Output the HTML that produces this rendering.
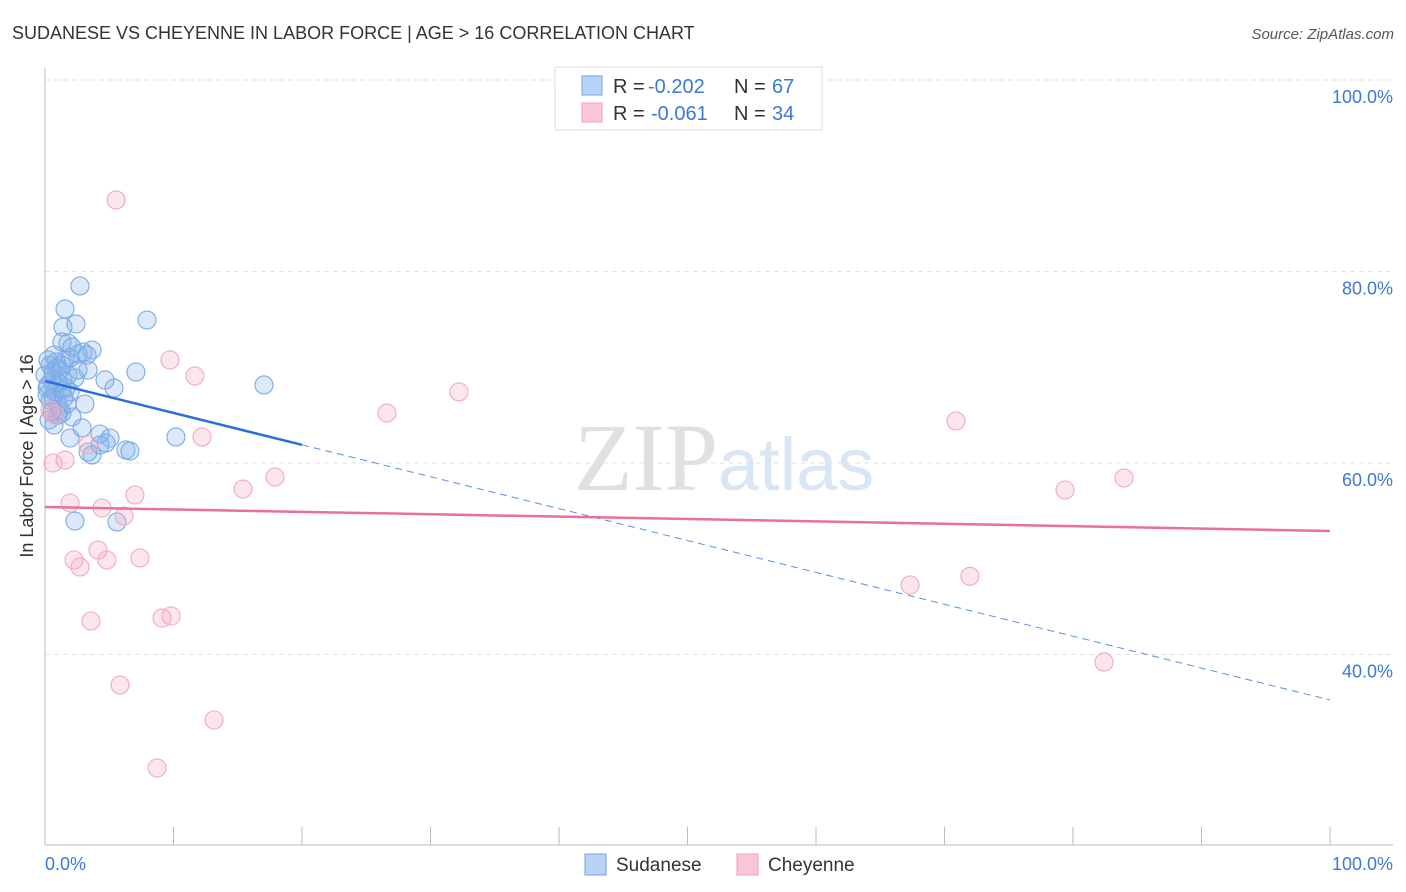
<!DOCTYPE html>
<html><head><meta charset="utf-8"><style>
body{margin:0;background:#fff;font-family:"Liberation Sans",sans-serif;}
#wrap{position:relative;width:1406px;height:892px;overflow:hidden;}
</style></head><body>
<div id="wrap">
<svg id="svg" width="1406" height="892" xmlns="http://www.w3.org/2000/svg">
<text x="12" y="39" font-size="18" fill="#333">SUDANESE VS CHEYENNE IN LABOR FORCE | AGE &gt; 16 CORRELATION CHART</text>
<text x="1394" y="39" font-size="15" fill="#555" font-style="italic" text-anchor="end">Source: ZipAtlas.com</text>
<text x="718" y="490" font-size="96" fill="#e0e0e0" text-anchor="end" font-family="Liberation Serif">ZIP</text>
<text x="718" y="490" font-size="74" fill="#d8e6f6">atlas</text>
<g id="grid"></g><g id="axes"></g><g id="marks"></g>
<text transform="translate(33,456) rotate(-90)" font-size="18" fill="#333" text-anchor="middle">In Labor Force | Age &gt; 16</text>
<text x="45" y="870" font-size="18" fill="#3b78d8">0.0%</text>
<text x="1393" y="870" font-size="18" fill="#3b78d8" text-anchor="end">100.0%</text>
<g>
<rect x="555" y="67" width="267" height="63" fill="#fff" stroke="#ddd"/>
<rect x="582" y="76" width="20" height="19" fill="#b8d3f5" stroke="#6fa3e6"/>
<rect x="582" y="103" width="20" height="19" fill="#f9c6d5" stroke="#f0a0bb"/>
<text x="613" y="93" font-size="20" fill="#333">R =</text>
<text x="648" y="93" font-size="20" fill="#3b78d8">-0.202</text>
<text x="734" y="93" font-size="20" fill="#333">N =</text>
<text x="772" y="93" font-size="20" fill="#3b78d8">67</text>
<text x="613" y="120" font-size="20" fill="#333">R =</text>
<text x="651" y="120" font-size="20" fill="#3b78d8">-0.061</text>
<text x="734" y="120" font-size="20" fill="#333">N =</text>
<text x="772" y="120" font-size="20" fill="#3b78d8">34</text>
</g>
<g>
<rect x="585" y="854" width="21" height="21" fill="#b8d3f5" stroke="#6fa3e6"/>
<text x="616" y="871" font-size="19" fill="#333">Sudanese</text>
<rect x="737" y="854" width="21" height="21" fill="#f9c6d5" stroke="#f0a0bb"/>
<text x="768" y="871" font-size="19" fill="#333">Cheyenne</text>
</g>
</svg>
</div>
<script>
const yTicks=[100,80,60,40];
const yTickLabels=["100.0%","80.0%","60.0%","40.0%"];
const xTicks=[10,20,30,40,50,60,70,80,90,100];
const sudaneseX=[2.72,1.56,1.40,2.41,7.94,1.32,1.79,3.66,2.57,2.96,1.95,0.86,0.39,0.62,1.17,3.35,1.79,2.33,4.67,7.08,5.37,17.04,0.54,1.01,0.23,1.32,0.78,1.95,0.39,1.01,1.71,3.11,0.54,1.32,2.10,0.70,2.88,1.95,4.28,5.06,4.75,3.35,3.66,6.30,6.61,10.19,2.33,5.60,0.23,0.93,0,0.16,1.17,0.62,1.56,2.10,1.40,0.31,1.63,1.01,0.16,3.27,0.70,1.32,2.57,1.48,4.28];
const sudaneseY=[78.49,76.09,74.20,74.52,74.93,72.64,72.53,71.80,71.38,71.59,70.97,70.55,70.23,69.50,69.71,69.71,69.19,68.88,68.67,69.50,67.83,68.15,68.67,68.36,68.15,67.62,67.42,67.42,66.58,66.06,66.16,66.16,65.33,65.22,64.80,63.97,63.66,62.61,63.03,62.61,62.09,61.15,60.84,61.36,61.25,62.72,53.94,53.84,70.76,69.92,69.19,67.10,65.54,66.79,70.76,72.11,68.67,64.49,67.83,65.01,67.83,71.28,71.28,70.23,69.71,66.79,61.88];
const cheyenneX=[5.53,9.73,11.67,32.22,26.61,70.89,12.22,83.97,79.38,17.90,15.41,7.00,4.44,6.15,1.95,0.62,1.56,3.35,2.26,2.72,4.12,4.82,7.39,3.58,9.11,9.81,67.32,71.98,82.41,5.84,13.15,8.72,0.39,0.78];
const cheyenneY=[87.47,70.76,69.09,67.42,65.22,64.39,62.72,58.43,57.18,58.54,57.28,56.66,55.30,54.46,55.82,60.00,60.31,61.88,49.87,49.14,50.91,49.87,50.08,43.50,43.81,44.02,47.26,48.17,39.22,36.81,33.16,28.15,65.54,65.01];
const sudaneseTrend=[68.56,35.25];
const cheyenneTrend=[55.4,52.9];
const sudaneseSolidEnd=20;

const NS="http://www.w3.org/2000/svg";
const X=v=>45+v*12.85, Y=v=>80+(100-v)*9.575;
function mk(tag,attrs,parent){const e=document.createElementNS(NS,tag);for(const k in attrs)e.setAttribute(k,attrs[k]);parent.appendChild(e);return e;}
const grid=document.getElementById('grid'),axes=document.getElementById('axes'),marks=document.getElementById('marks'),svg=document.getElementById('svg');
yTicks.forEach((t,i)=>{
 const l=mk('line',{x1:45,x2:1393,y1:Y(t),y2:Y(t),stroke:'#e2e2e2','stroke-dasharray':'5,4'},grid);
 
 
 const tx=mk('text',{x:1393,y:Y(t)+23,'font-size':18,fill:'#3b78d8','text-anchor':'end'},svg);
 tx.textContent=yTickLabels[i];
 
 
});
let a=mk('line',{x1:45,x2:45,y1:68,y2:845,stroke:'#bbb'},axes);


a=mk('line',{x1:45,x2:1393,y1:845,y2:845,stroke:'#bbb'},axes);


xTicks.forEach(t=>{
 const l=mk('line',{x1:X(t),x2:X(t),y1:827,y2:845,stroke:'#bbb'},axes);
 
 
});
sudaneseX.forEach((x,i)=>{
 const c=mk('circle',{cx:X(x),cy:Y(sudaneseY[i]),r:9,fill:'rgba(130,175,235,0.28)',stroke:'#7aaae6','stroke-width':1.1},marks);
 
 
});
cheyenneX.forEach((x,i)=>{
 const c=mk('circle',{cx:X(x),cy:Y(cheyenneY[i]),r:9,fill:'rgba(245,165,195,0.28)',stroke:'#f2a8c0','stroke-width':1.1},marks);
 
 
});
const sy=x=>sudaneseTrend[0]+(sudaneseTrend[1]-sudaneseTrend[0])*x/100;
let t=mk('line',{x1:X(0),y1:Y(sy(0)),x2:X(sudaneseSolidEnd),y2:Y(sy(sudaneseSolidEnd)),stroke:'#2a6fd6','stroke-width':2.5},marks);


t=mk('line',{x1:X(sudaneseSolidEnd),y1:Y(sy(sudaneseSolidEnd)),x2:X(100),y2:Y(sy(100)),stroke:'#5b8fe0','stroke-width':1,'stroke-dasharray':'7,5'},marks);


t=mk('line',{x1:X(0),y1:Y(cheyenneTrend[0]),x2:X(100),y2:Y(cheyenneTrend[1]),stroke:'#e8709a','stroke-width':2.5},marks);


</script>
</body></html>
